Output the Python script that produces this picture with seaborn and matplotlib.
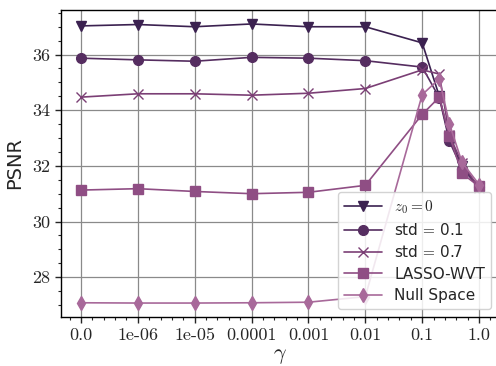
import numpy as np
import matplotlib
matplotlib.use("Agg")
import matplotlib.pyplot as plt
import matplotlib.ticker as mticker
import seaborn as sns

# gamma values (0.0 sits at the left of the symlog axis)
GAMMA = [0.0, 1e-06, 1e-05, 1e-04, 1e-03, 1e-02, 0.1, 0.2, 0.3, 0.5, 1.0]
XTICKS = [0.0, 1e-06, 1e-05, 1e-04, 1e-03, 1e-02, 0.1, 1.0]
XTICKLABELS = [str(v) for v in XTICKS]

# PSNR per series
PSNR_Z0 = [37.03, 37.08, 37.0, 37.1, 37.0, 37.0, 36.42, 34.5, 33.0, 32.0, 31.2]
PSNR_STD01 = [35.87, 35.81, 35.76, 35.9, 35.87, 35.78, 35.55, 34.45, 32.89, 31.9, 31.25]
PSNR_STD07 = [34.47, 34.59, 34.59, 34.54, 34.61, 34.78, 35.45, 35.3, 33.1, 32.1, 31.2]
PSNR_LASSO = [31.13, 31.18, 31.08, 31.0, 31.05, 31.3, 33.85, 34.47, 33.09, 31.73, 31.26]
PSNR_NULL = [27.08, 27.07, 27.07, 27.08, 27.1, 27.3, 34.56, 35.13, 33.52, 32.13, 31.33]

SERIES = [
    (r"$z_0 = 0$", PSNR_Z0, "v", "#3b2150"),
    (r"std$\,=\,$0.1", PSNR_STD01, "o", "#552d60"),
    (r"std$\,=\,$0.7", PSNR_STD07, "x", "#7b3f75"),
    ("LASSO-WVT", PSNR_LASSO, "s", "#8f4e84"),
    ("Null Space", PSNR_NULL, "d", "#a8699a"),
]

sns.set_style("ticks")
plt.rcParams.update({
    "font.family": "DejaVu Sans",
    "mathtext.fontset": "cm",
    "axes.edgecolor": "black",
    "axes.linewidth": 1.0,
})

fig = plt.figure(figsize=(4.96, 3.66), dpi=100)
ax = fig.add_axes([61 / 496, 49 / 366, 438 / 496, 307 / 366])

for label, vals, marker, color in SERIES:
    sns.lineplot(x=GAMMA, y=vals, ax=ax, label=label, color=color,
                 marker=marker, markersize=7, linewidth=1.2,
                 markeredgecolor=color, markeredgewidth=1.0)

ax.set_xscale("symlog", linthresh=1e-6, linscale=0.9)
# 5% margin of the 7 transformed decades on each side
ax.set_xlim(-0.35e-6, 10 ** 0.35)
ax.set_xticks(XTICKS, labels=XTICKLABELS)

# evenly spaced minor ticks in the transformed axis (5 per decade)
minor_pos = np.arange(-1, 37) * 0.2
minor_vals = [p * 1e-6 if p <= 1 else 10 ** (p - 7) for p in minor_pos]
ax.xaxis.set_minor_locator(mticker.FixedLocator(minor_vals))

ax.set_yticks([28, 30, 32, 34, 36])
ax.yaxis.set_minor_locator(mticker.AutoMinorLocator(4))

ax.tick_params(which="major", direction="out", length=4, width=1,
               labelsize=13, labelfontfamily="cmr10")
ax.tick_params(which="minor", direction="out", length=2.5, width=0.8)

ax.grid(True, which="major", color="#8a8a8a", linewidth=0.9)
ax.set_axisbelow(True)

ax.set_xlabel(r"$\gamma$", fontsize=16, labelpad=2)
ax.set_ylabel("PSNR", fontsize=14, labelpad=6)

ax.legend(loc="lower right", fontsize=11, labelspacing=0.42,
          handlelength=2.5, framealpha=0.85, edgecolor="#cccccc")

fig.savefig("out.png", dpi=100)
